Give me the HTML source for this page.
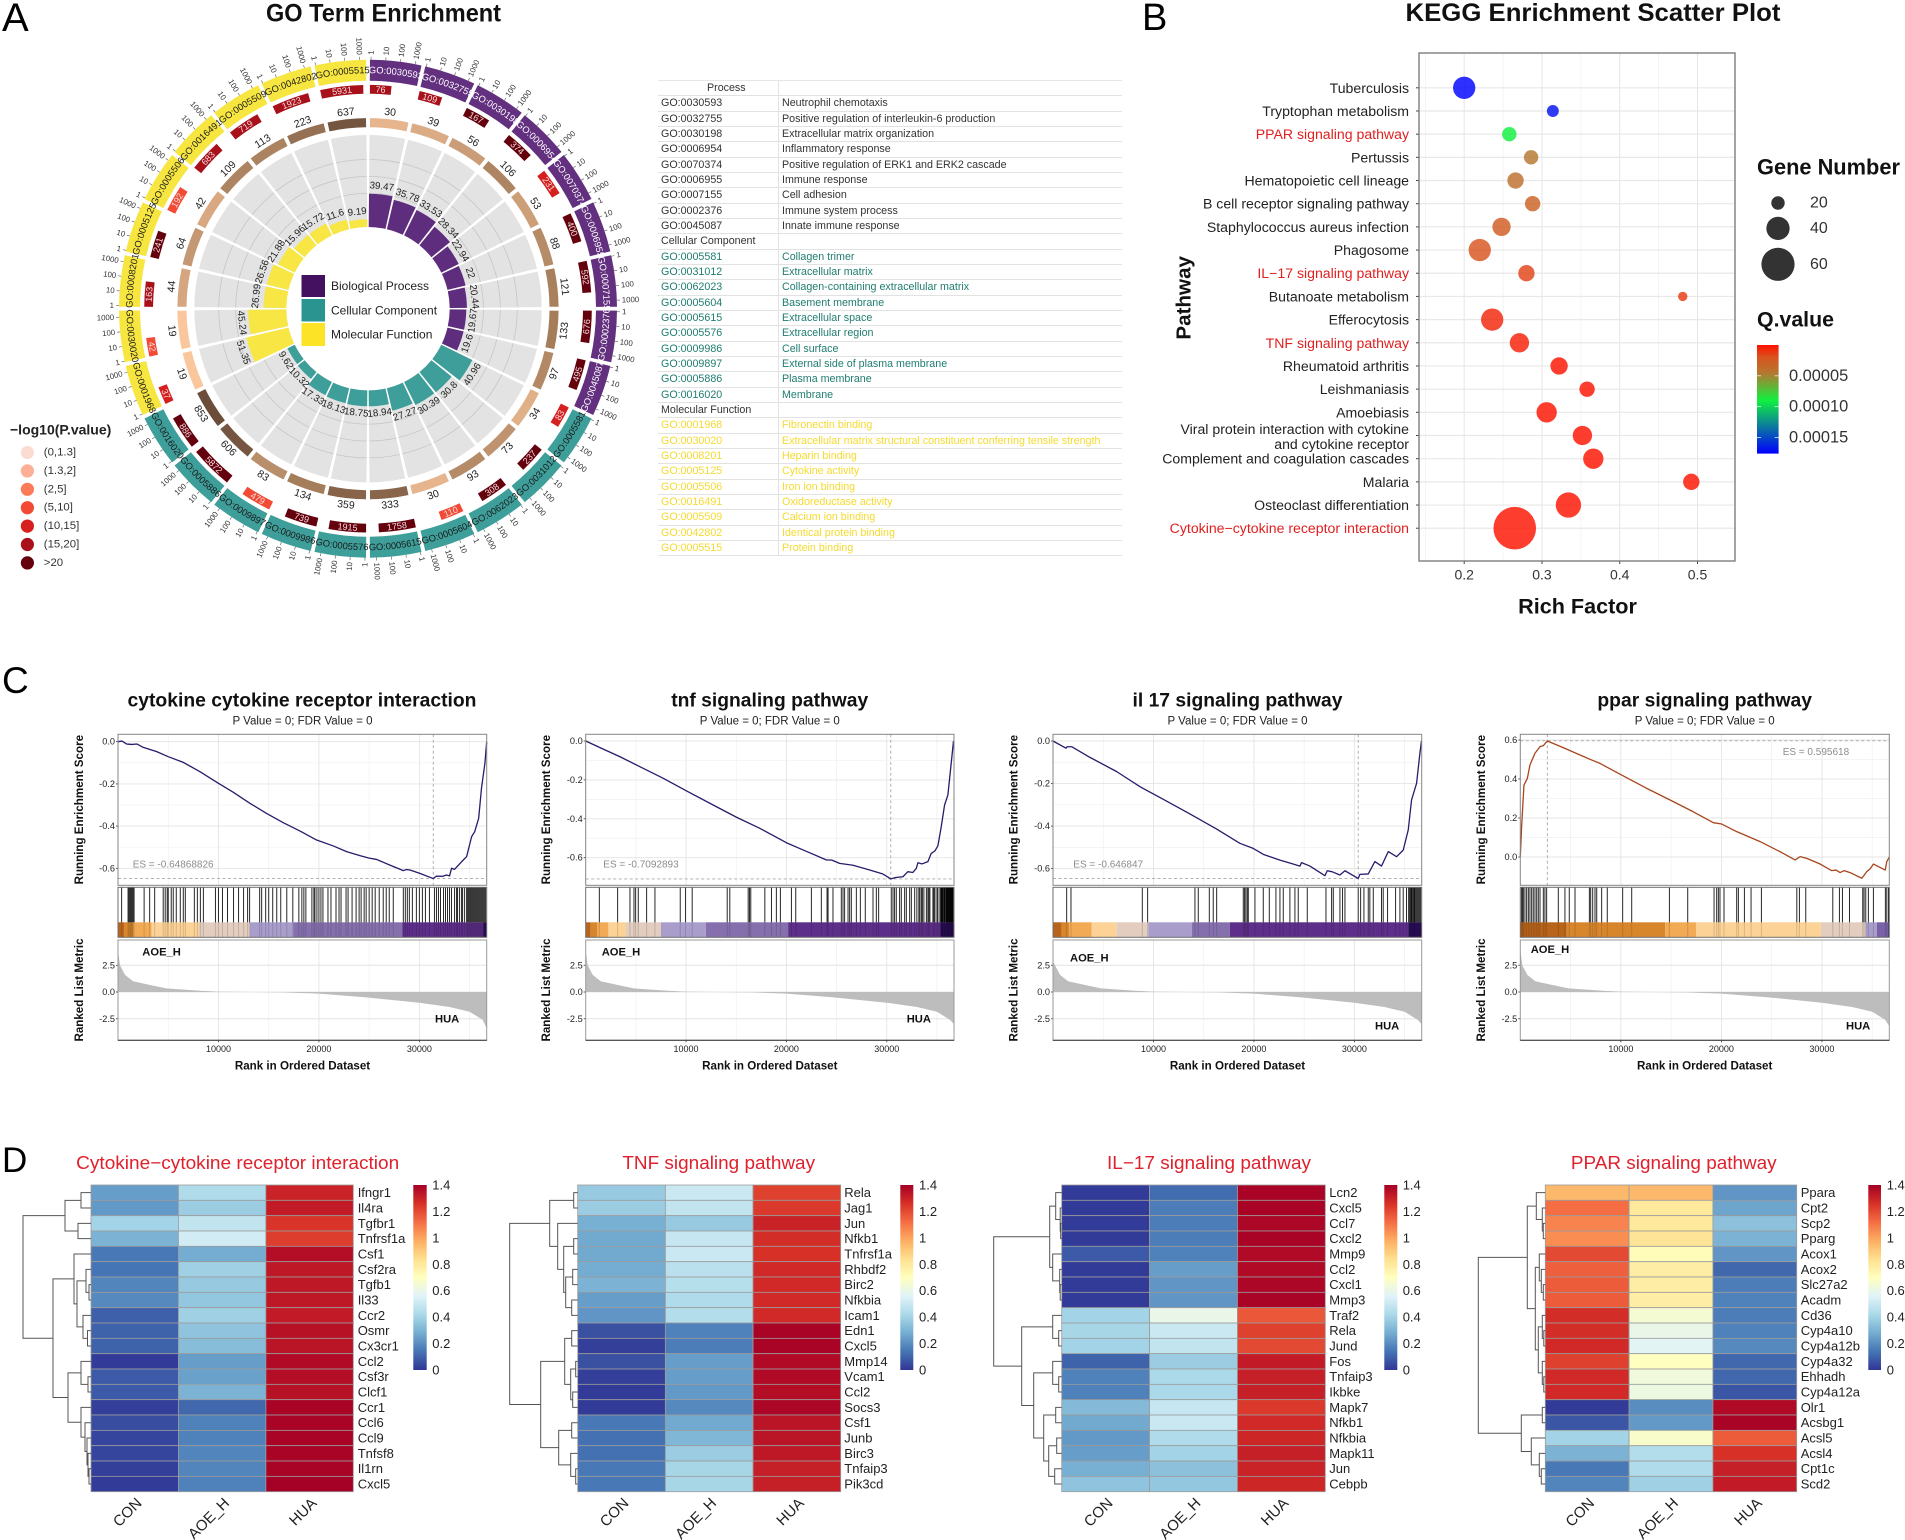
<!DOCTYPE html>
<html lang="en">
<head>
<meta charset="utf-8">
<title>Enrichment analysis figure</title>
<style>
html,body{margin:0;padding:0;background:#fff;}
body{width:1905px;height:1540px;position:relative;overflow:hidden;font-family:"Liberation Sans",sans-serif;}
#figure{position:absolute;left:0;top:0;}
#figure text{font-family:"Liberation Sans",sans-serif;}
#go-table{position:absolute;left:658px;top:80px;width:464px;font-size:10.7px;color:#333;border-top:1px solid #e6e6e6;}
#go-table .r{display:flex;height:15.34px;box-sizing:border-box;border-bottom:1px solid #e2e2e2;line-height:14px;white-space:nowrap;}
#go-table .r span:first-child{width:121px;box-sizing:border-box;padding-left:3px;border-right:1px solid #e2e2e2;flex:none;}
#go-table .r span:last-child{padding-left:3px;}
#go-table .cc{color:#1f7d70;}
#go-table .mf{color:#f5da30;}
</style>
</head>
<body>
<svg id="figure" xmlns="http://www.w3.org/2000/svg" width="1905" height="1540" viewBox="0 0 1905 1540">
  <rect width="1905" height="1540" fill="#fff"/>
  <defs id="arc-defs"></defs>

  <!-- panel letters -->
  <text x="2" y="31" font-size="40" fill="#000">A</text>
  <text x="1142" y="30" font-size="38" fill="#000">B</text>
  <text x="2" y="693" font-size="37" fill="#000">C</text>
  <text x="2" y="1172" font-size="35" fill="#000">D</text>

  <!-- panel A -->
  <text x="383.5" y="13.8" font-size="24.6" font-weight="bold" text-anchor="middle" dominant-baseline="central" textLength="235" lengthAdjust="spacingAndGlyphs" fill="#111">GO Term Enrichment</text>
  <g id="go-circle"></g>
  <g>
    <rect x="301.5" y="275" width="23.5" height="22" fill="#43115f"/>
    <rect x="301.5" y="299" width="23.5" height="22.5" fill="#2a9490"/>
    <rect x="301.5" y="323" width="23.5" height="23" fill="#fde325"/>
    <text x="331" y="286" font-size="12" fill="#222" dominant-baseline="central">Biological Process</text>
    <text x="331" y="310.6" font-size="12" fill="#222" dominant-baseline="central">Cellular Component</text>
    <text x="331" y="334.7" font-size="12" fill="#222" dominant-baseline="central">Molecular Function</text>
  </g>
  <g id="go-pvalue-legend">
    <text x="10" y="429.4" font-size="14" font-weight="bold" fill="#222" dominant-baseline="central">−log10(P.value)</text>
  </g>

  <!-- panel B -->
  <text x="1593" y="12.8" font-size="25" font-weight="bold" text-anchor="middle" dominant-baseline="central" textLength="375" lengthAdjust="spacingAndGlyphs" fill="#111">KEGG Enrichment Scatter Plot</text>
  <g id="kegg-plot"></g>
  <text transform="translate(1184 297.8) rotate(-90)" font-size="20.6" font-weight="bold" text-anchor="middle" dominant-baseline="central" fill="#111">Pathway</text>
  <text x="1577.5" y="606" font-size="21.6" font-weight="bold" text-anchor="middle" dominant-baseline="central" fill="#111">Rich Factor</text>
  <text x="1757" y="167" font-size="21.8" font-weight="bold" dominant-baseline="central" fill="#111">Gene Number</text>
  <text x="1757" y="319.5" font-size="21.3" font-weight="bold" dominant-baseline="central" fill="#111">Q.value</text>

  <!-- panel C -->
  <g id="gsea-plots"></g>
  <g>
    <text x="302" y="700.7" font-size="19.5" font-weight="bold" text-anchor="middle" dominant-baseline="central" textLength="349" lengthAdjust="spacingAndGlyphs" fill="#111">cytokine cytokine receptor interaction</text>
    <text x="769.7" y="700.7" font-size="19.5" font-weight="bold" text-anchor="middle" dominant-baseline="central" textLength="197" lengthAdjust="spacingAndGlyphs" fill="#111">tnf signaling pathway</text>
    <text x="1237.5" y="700.7" font-size="19.5" font-weight="bold" text-anchor="middle" dominant-baseline="central" textLength="210" lengthAdjust="spacingAndGlyphs" fill="#111">il 17 signaling pathway</text>
    <text x="1704.7" y="700.7" font-size="19.5" font-weight="bold" text-anchor="middle" dominant-baseline="central" textLength="214.7" lengthAdjust="spacingAndGlyphs" fill="#111">ppar signaling pathway</text>

    <text x="302.5" y="721.7" font-size="11.5" text-anchor="middle" dominant-baseline="central" fill="#222">P Value = 0; FDR Value = 0</text>
    <text x="769.8" y="721.7" font-size="11.5" text-anchor="middle" dominant-baseline="central" fill="#222">P Value = 0; FDR Value = 0</text>
    <text x="1237.5" y="721.7" font-size="11.5" text-anchor="middle" dominant-baseline="central" fill="#222">P Value = 0; FDR Value = 0</text>
    <text x="1704.7" y="721.7" font-size="11.5" text-anchor="middle" dominant-baseline="central" fill="#222">P Value = 0; FDR Value = 0</text>

    <text transform="translate(79.3 809.7) rotate(-90)" font-size="11.6" font-weight="bold" text-anchor="middle" dominant-baseline="central" fill="#111">Running Enrichment Score</text>
    <text transform="translate(546.3 809.7) rotate(-90)" font-size="11.6" font-weight="bold" text-anchor="middle" dominant-baseline="central" fill="#111">Running Enrichment Score</text>
    <text transform="translate(1014 809.7) rotate(-90)" font-size="11.6" font-weight="bold" text-anchor="middle" dominant-baseline="central" fill="#111">Running Enrichment Score</text>
    <text transform="translate(1481.3 809.7) rotate(-90)" font-size="11.6" font-weight="bold" text-anchor="middle" dominant-baseline="central" fill="#111">Running Enrichment Score</text>

    <text transform="translate(79.3 990) rotate(-90)" font-size="11.6" font-weight="bold" text-anchor="middle" dominant-baseline="central" fill="#111">Ranked List Metric</text>
    <text transform="translate(546.3 990) rotate(-90)" font-size="11.6" font-weight="bold" text-anchor="middle" dominant-baseline="central" fill="#111">Ranked List Metric</text>
    <text transform="translate(1014 990) rotate(-90)" font-size="11.6" font-weight="bold" text-anchor="middle" dominant-baseline="central" fill="#111">Ranked List Metric</text>
    <text transform="translate(1481.3 990) rotate(-90)" font-size="11.6" font-weight="bold" text-anchor="middle" dominant-baseline="central" fill="#111">Ranked List Metric</text>

    <text x="302.5" y="1066" font-size="11.6" font-weight="bold" text-anchor="middle" dominant-baseline="central" fill="#111">Rank in Ordered Dataset</text>
    <text x="769.8" y="1066" font-size="11.6" font-weight="bold" text-anchor="middle" dominant-baseline="central" fill="#111">Rank in Ordered Dataset</text>
    <text x="1237.5" y="1066" font-size="11.6" font-weight="bold" text-anchor="middle" dominant-baseline="central" fill="#111">Rank in Ordered Dataset</text>
    <text x="1704.7" y="1066" font-size="11.6" font-weight="bold" text-anchor="middle" dominant-baseline="central" fill="#111">Rank in Ordered Dataset</text>

    <text x="132.7" y="865" font-size="10" fill="#8c8c8c" dominant-baseline="central">ES = -0.64868826</text>
    <text x="603.3" y="865" font-size="10" fill="#8c8c8c" dominant-baseline="central">ES = -0.7092893</text>
    <text x="1073.3" y="865" font-size="10" fill="#8c8c8c" dominant-baseline="central">ES = -0.646847</text>
    <text x="1782.7" y="752.7" font-size="10" fill="#8c8c8c" dominant-baseline="central">ES = 0.595618</text>

    <text x="142.3" y="952.3" font-size="11.2" font-weight="bold" fill="#111" dominant-baseline="central">AOE_H</text>
    <text x="601.7" y="952.7" font-size="11.2" font-weight="bold" fill="#111" dominant-baseline="central">AOE_H</text>
    <text x="1070" y="958.7" font-size="11.2" font-weight="bold" fill="#111" dominant-baseline="central">AOE_H</text>
    <text x="1530.7" y="950" font-size="11.2" font-weight="bold" fill="#111" dominant-baseline="central">AOE_H</text>
    <text x="435" y="1019.3" font-size="11.2" font-weight="bold" fill="#111" dominant-baseline="central">HUA</text>
    <text x="906.7" y="1019.3" font-size="11.2" font-weight="bold" fill="#111" dominant-baseline="central">HUA</text>
    <text x="1375" y="1026.7" font-size="11.2" font-weight="bold" fill="#111" dominant-baseline="central">HUA</text>
    <text x="1846" y="1026.7" font-size="11.2" font-weight="bold" fill="#111" dominant-baseline="central">HUA</text>
  </g>

  <!-- panel D -->
  <g id="heatmaps"></g>
  <text x="237.7" y="1162.7" font-size="18.5" text-anchor="middle" dominant-baseline="central" textLength="323" lengthAdjust="spacingAndGlyphs" fill="#e0202c">Cytokine−cytokine receptor interaction</text>
  <text x="718.7" y="1162.7" font-size="18.5" text-anchor="middle" dominant-baseline="central" textLength="192.7" lengthAdjust="spacingAndGlyphs" fill="#e0202c">TNF signaling pathway</text>
  <text x="1209" y="1162.7" font-size="18.5" text-anchor="middle" dominant-baseline="central" textLength="204" lengthAdjust="spacingAndGlyphs" fill="#e0202c">IL−17 signaling pathway</text>
  <text x="1673.8" y="1162.7" font-size="18.5" text-anchor="middle" dominant-baseline="central" textLength="205.7" lengthAdjust="spacingAndGlyphs" fill="#e0202c">PPAR signaling pathway</text>
</svg>

<div id="go-table">
  <div class="r"><span style="padding-left:49px">Process</span><span></span></div>
  <div class="r"><span>GO:0030593</span><span>Neutrophil chemotaxis</span></div>
  <div class="r"><span>GO:0032755</span><span>Positive regulation of interleukin-6 production</span></div>
  <div class="r"><span>GO:0030198</span><span>Extracellular matrix organization</span></div>
  <div class="r"><span>GO:0006954</span><span>Inflammatory response</span></div>
  <div class="r"><span>GO:0070374</span><span>Positive regulation of ERK1 and ERK2 cascade</span></div>
  <div class="r"><span>GO:0006955</span><span>Immune response</span></div>
  <div class="r"><span>GO:0007155</span><span>Cell adhesion</span></div>
  <div class="r"><span>GO:0002376</span><span>Immune system process</span></div>
  <div class="r"><span>GO:0045087</span><span>Innate immune response</span></div>
  <div class="r"><span>Cellular Component</span><span></span></div>
  <div class="r cc"><span>GO:0005581</span><span>Collagen trimer</span></div>
  <div class="r cc"><span>GO:0031012</span><span>Extracellular matrix</span></div>
  <div class="r cc"><span>GO:0062023</span><span>Collagen-containing extracellular matrix</span></div>
  <div class="r cc"><span>GO:0005604</span><span>Basement membrane</span></div>
  <div class="r cc"><span>GO:0005615</span><span>Extracellular space</span></div>
  <div class="r cc"><span>GO:0005576</span><span>Extracellular region</span></div>
  <div class="r cc"><span>GO:0009986</span><span>Cell surface</span></div>
  <div class="r cc"><span>GO:0009897</span><span>External side of plasma membrane</span></div>
  <div class="r cc"><span>GO:0005886</span><span>Plasma membrane</span></div>
  <div class="r cc"><span>GO:0016020</span><span>Membrane</span></div>
  <div class="r"><span>Molecular Function</span><span></span></div>
  <div class="r mf"><span>GO:0001968</span><span>Fibronectin binding</span></div>
  <div class="r mf"><span>GO:0030020</span><span>Extracellular matrix structural constituent conferring tensile strength</span></div>
  <div class="r mf"><span>GO:0008201</span><span>Heparin binding</span></div>
  <div class="r mf"><span>GO:0005125</span><span>Cytokine activity</span></div>
  <div class="r mf"><span>GO:0005506</span><span>Iron ion binding</span></div>
  <div class="r mf"><span>GO:0016491</span><span>Oxidoreductase activity</span></div>
  <div class="r mf"><span>GO:0005509</span><span>Calcium ion binding</span></div>
  <div class="r mf"><span>GO:0042802</span><span>Identical protein binding</span></div>
  <div class="r mf"><span>GO:0005515</span><span>Protein binding</span></div>
</div>

<script>
/* ---------- panel A data ---------- */
const goIds = ['GO:0030593','GO:0032755','GO:0030198','GO:0006954','GO:0070374','GO:0006955','GO:0007155','GO:0002376','GO:0045087','GO:0005581','GO:0031012','GO:0062023','GO:0005604','GO:0005615','GO:0005576','GO:0009986','GO:0009897','GO:0005886','GO:0016020','GO:0001968','GO:0030020','GO:0008201','GO:0005125','GO:0005506','GO:0016491','GO:0005509','GO:0042802','GO:0005515'];
const goCategory = [0,0,0,0,0,0,0,0,0,1,1,1,1,1,1,1,1,1,1,2,2,2,2,2,2,2,2,2];
const goBackgroundCounts = [76,109,167,374,231,400,592,676,495,83,237,308,110,1758,1915,739,479,5872,886,37,42,163,241,192,683,719,1923,5931];
const goPValues = [17,17,25,25,11,25,25,25,25,11,25,25,9,25,25,25,9,25,25,11,9,17,25,9,17,17,17,17];
const goGeneCounts = [30,39,56,106,53,88,121,133,97,34,73,93,30,333,359,134,83,606,853,19,19,44,64,42,109,113,223,637];
const goRichValues = [39.47,35.78,33.53,28.34,22.94,22,20.44,19.67,19.6,40.96,30.8,30.39,27.27,18.94,18.75,18.13,17.33,10.32,9.62,51.35,45.24,26.99,26.56,21.88,15.96,15.72,11.6,9.19];
const goAxisTicks = ['1','10','100','1000'];
const goGridValues = [40,60,80];
const pLegendLabels = ['(0,1.3]','(1.3,2]','(2,5]','(5,10]','(10,15]','(15,20]','>20'];
const pLegendUpper = [1.3,2,5,10,15,20,Infinity];
const pLegendColors = ['#fcdcd0','#fcae96','#fb7a58','#f24a34','#d5201f','#a8101a','#65000d'];
const goCategoryColors = ['#63307f','#3e9e9a','#f7e63f'];
const goLabelColors = ['#ffffff','#1b1b1b','#1b1b1b'];

/* ---------- panel B data ---------- */
const keggPathways = ['Tuberculosis','Tryptophan metabolism','PPAR signaling pathway','Pertussis','Hematopoietic cell lineage','B cell receptor signaling pathway','Staphylococcus aureus infection','Phagosome','IL−17 signaling pathway','Butanoate metabolism','Efferocytosis','TNF signaling pathway','Rheumatoid arthritis','Leishmaniasis','Amoebiasis','Viral protein interaction with cytokine|and cytokine receptor','Complement and coagulation cascades','Malaria','Osteoclast differentiation','Cytokine−cytokine receptor interaction'];
const keggHighlighted = [0,0,1,0,0,0,0,0,1,0,0,1,0,0,0,0,0,0,0,1];
const keggRichFactor = [0.2,0.314,0.258,0.286,0.266,0.288,0.248,0.22,0.28,0.481,0.236,0.271,0.322,0.358,0.306,0.352,0.366,0.492,0.334,0.265];
const keggGeneNumber = [38,17,22,22,26,24,30,38,26,12,38,32,28,24,34,32,34,26,44,79];
const keggQValue = [0.000175,0.00017,0.00009,0.000045,0.00004,0.00003,0.000025,0.00002,0.000015,0.000012,0.000006,0.000004,0.000001,0.000001,0.000001,0.000001,0.000001,0.000001,0.000001,0.000001];
const keggXTicks = [0.2,0.3,0.4,0.5];
const keggXMinor = [0.15,0.25,0.35,0.45];
const keggSizeLegend = [20,40,60];
const keggQTicks = [0.00005,0.0001,0.00015];
const keggQStopValues = [0,0.00002,0.000045,0.00009,0.00013,0.000176];
const keggQStopColors = ['#ff1000','#d8541e','#b5772f','#10f040','#0b7f9a','#0000ff'];

/* ---------- panel C data ---------- */
const gseaRanks1 = [0,400,860,1360,1900,2520,3850,5000,6500,8160,10000,11480,13130,14790,16450,18100,19770,21430,22750,24080,25000,25740,27070,28400,28700,29060,30050,31380,31700,32300,32700,33000,33200,33500,34200,34700,35200,35500,35900,36180,36520,36700];
const gseaScores1 = [0,0.003,-0.011,-0.013,-0.011,-0.027,-0.047,-0.071,-0.098,-0.142,-0.197,-0.24,-0.292,-0.34,-0.384,-0.423,-0.466,-0.494,-0.521,-0.54,-0.552,-0.558,-0.585,-0.611,-0.606,-0.608,-0.624,-0.6487,-0.637,-0.638,-0.632,-0.636,-0.6,-0.605,-0.569,-0.545,-0.45,-0.427,-0.363,-0.221,-0.103,0];
const gseaRanks2 = [0,1426,3417,5400,7730,10050,12700,15030,17350,20000,21660,24000,24500,25300,26640,28300,29620,30400,30900,31610,32100,32600,32940,33100,33500,34100,34430,34800,35100,35430,35760,36090,36420,36650];
const gseaScores2 = [0,-0.034,-0.081,-0.132,-0.192,-0.257,-0.329,-0.392,-0.449,-0.523,-0.56,-0.612,-0.612,-0.629,-0.639,-0.663,-0.684,-0.709,-0.702,-0.698,-0.672,-0.676,-0.655,-0.626,-0.632,-0.62,-0.578,-0.565,-0.538,-0.44,-0.329,-0.278,-0.115,0];
const gseaRanks3 = [0,1290,1400,1860,3680,6340,8660,10980,13630,16290,18600,19930,20930,22590,23900,24580,24740,25570,27070,27300,27800,28560,29060,30380,30550,31380,32040,32700,33370,34200,34860,35360,35690,36190,36520,36680];
const gseaScores3 = [0,-0.034,-0.027,-0.027,-0.077,-0.144,-0.215,-0.274,-0.343,-0.414,-0.481,-0.505,-0.533,-0.56,-0.578,-0.588,-0.572,-0.588,-0.633,-0.61,-0.615,-0.63,-0.61,-0.646,-0.627,-0.625,-0.567,-0.588,-0.52,-0.544,-0.513,-0.418,-0.277,-0.199,-0.058,0];
const gseaRanks4 = [0,130,365,700,960,1460,1960,2290,2690,4440,5940,6930,7930,10080,12570,15220,17200,19200,20030,21530,23850,25840,27330,27830,28490,29820,30980,31400,31810,32200,32800,33970,34460,34800,35130,36290,36450,36700];
const gseaScores4 = [0,0.156,0.369,0.403,0.472,0.532,0.566,0.571,0.595,0.557,0.523,0.501,0.48,0.42,0.352,0.284,0.232,0.176,0.169,0.13,0.079,0.027,-0.015,0.002,-0.007,-0.036,-0.07,-0.067,-0.08,-0.07,-0.08,-0.109,-0.075,-0.06,-0.036,-0.067,-0.024,0];
const gseaRanks = [gseaRanks1,gseaRanks2,gseaRanks3,gseaRanks4];
const gseaScores = [gseaScores1,gseaScores2,gseaScores3,gseaScores4];
const gseaPeakRank = [31380,30400,30380,2690];
const gseaPeakScore = [-0.6487,-0.7093,-0.6468,0.5956];
const gseaLineColors = ['#2b1a6b','#2b1a6b','#2b1a6b','#a8451c'];
const gseaHits1 = [360,1000,1100,1200,1300,1400,1500,1600,2600,3150,3650,4500,4700,4900,5000,5300,5500,5800,6200,6500,6700,7600,7900,8200,8500,9700,10000,10400,10900,11500,12000,12500,12900,13100,14100,14300,14700,15000,15400,15800,16200,16800,17400,18000,18300,18500,18700,19300,19500,19600,19800,20000,20200,20400,20900,21200,21700,22000,22200,22700,22900,23300,23700,24000,24200,24500,24700,25000,25300,25600,26000,26400,26700,27000,27400,28400,28600,28800,29000,29300,29700,30000,30300,30600,31000,31500,31700,31900,32100,32400,32600,32800,33000,33200,33500,33700,33800,34000,34200,34300,34500,34700,34800,34900,35000,35100,35200,35300,35400,35500,35600,35700,35800,35900,36000,36100,36200,36300,36400,36500,36600];
const gseaHits2 = [1360,3180,4410,4810,4975,5240,6070,6900,9420,9950,10610,14100,14360,16190,16320,16450,17850,18510,19000,19400,20500,20930,22490,23480,24050,24150,24640,25470,25640,25800,26140,26300,26470,26970,27370,27860,28630,28960,29190,30450,30620,30780,30950,31280,31450,31780,31950,32280,32450,32780,33000,33200,33300,33450,33550,33700,33950,34100,34200,34300,34600,34700,34800,35000,35100,35300,35400,35450,35500,35550,35600,35700,35750,35800,35900,35950,36000,36050,36100,36150,36200,36250,36300,36350,36400,36450,36500,36550,36600];
const gseaHits3 = [1360,1790,8890,9420,14130,14460,15560,15950,16290,18940,19070,19200,19340,19440,20100,20930,21530,22190,22590,22920,23580,24080,24410,25310,27170,27730,27900,28560,28820,29060,30380,30620,30950,31380,31540,31880,32700,32870,33300,34100,34530,34860,35190,35400,35500,35600,35650,35700,35800,35900,35950,36000,36100,36200,36300,36400,36500,36600];
const gseaHits4 = [130,230,300,460,630,800,960,1130,1290,1460,1630,1790,1960,2290,2450,2620,3780,4440,4870,5440,6870,7000,7200,7430,7600,8090,8650,10180,11080,14830,16650,19270,19530,19700,19860,20260,21520,21690,22290,22950,23980,27500,27760,28390,31080,31740,32040,32740,34060,34190,34360,34620,35120,36310,36450,36620];
const gseaHits = [gseaHits1,gseaHits2,gseaHits3,gseaHits4];
const gseaBandBreaks1 = [0,600,1530,3350,8060,13130,17440,28320,36340,36700];
const gseaBandBreaks2 = [0,500,1160,2260,4010,7500,11970,20170,35320,36700];
const gseaBandBreaks3 = [0,860,1590,3850,6340,9490,13830,17610,35360,36700];
const gseaBandBreaks4 = [0,4610,14400,17480,29890,34360,35460,36620,36700];
const gseaBandBreaks = [gseaBandBreaks1,gseaBandBreaks2,gseaBandBreaks3,gseaBandBreaks4];
const gseaBandColors = ['#b8641a','#d8862c','#f2aa55','#fcd296','#e2cdbf','#a99dcc','#8570ad','#5e2f8a','#2d0f5e'];
const gseaBandColors4 = ['#b8641a','#d8862c','#f2aa55','#fcd296','#e2cdbf','#a99dcc','#7a62a8','#2d0f5e'];
const metricRanks = [0,200,700,1500,3200,4800,8200,10000,13100,16400,20000,24700,30000,33000,35000,36300,36700];
const metricValues = [3.9,2.5,1.6,1,0.65,0.34,0.12,0.03,0,-0.03,-0.15,-0.5,-1,-1.4,-1.85,-2.6,-3.4];
const metricFirst = [3.9,3.9,2.9,3.9];
const metricLast = [-3.4,-3,-3,-3.2];
const gseaXTicks = [10000,20000,30000];
const gseaXMinor = [5000,15000,25000,35000];
const gseaNegTicks = [0,-0.2,-0.4,-0.6];
const gseaPosTicks = [0,0.2,0.4,0.6];
const metricTicks = [2.5,0,-2.5];
const gseaLayouts = [
  {key:'cytokine',left:118,right:486.7,zero:741.7,k:211,sign:-1},
  {key:'tnf',left:585.7,right:954,zero:741,k:194.5,sign:-1},
  {key:'il17',left:1053,right:1421.7,zero:741,k:212.7,sign:-1},
  {key:'ppar',left:1520.3,right:1889.3,zero:857,k:195,sign:1}
];

/* ---------- panel D data ---------- */
const heatColumns = ['CON','AOE_H','HUA'];
const heatGenes1 = ['Ifngr1','Il4ra','Tgfbr1','Tnfrsf1a','Csf1','Csf2ra','Tgfb1','Il33','Ccr2','Osmr','Cx3cr1','Ccl2','Csf3r','Clcf1','Ccr1','Ccl6','Ccl9','Tnfsf8','Il1rn','Cxcl5'];
const heatValues1 = [[.24,.43,1.30],[.23,.38,1.32],[.40,.48,1.25],[.30,.52,1.23],[.15,.28,1.36],[.14,.39,1.33],[.18,.37,1.33],[.19,.36,1.33],[.09,.39,1.32],[.10,.35,1.35],[.10,.33,1.34],[.01,.24,1.37],[.08,.25,1.36],[.08,.30,1.35],[.02,.11,1.39],[.05,.17,1.39],[.03,.17,1.39],[.03,.18,1.39],[.02,.18,1.39],[.01,.17,1.40]];
const heatGenes2 = ['Rela','Jag1','Jun','Nfkb1','Tnfrsf1a','Rhbdf2','Birc2','Nfkbia','Icam1','Edn1','Cxcl5','Mmp14','Vcam1','Ccl2','Socs3','Csf1','Junb','Birc3','Tnfaip3','Pik3cd'];
const heatValues2 = [[.37,.50,1.22],[.38,.48,1.24],[.29,.37,1.30],[.27,.49,1.27],[.27,.50,1.26],[.28,.46,1.28],[.30,.45,1.28],[.24,.43,1.28],[.22,.44,1.28],[.06,.17,1.39],[.02,.16,1.39],[.06,.24,1.37],[.02,.24,1.37],[.01,.23,1.36],[.01,.19,1.38],[.15,.27,1.34],[.13,.31,1.34],[.13,.38,1.33],[.15,.41,1.31],[.15,.41,1.31]];
const heatGenes3 = ['Lcn2','Cxcl5','Ccl7','Cxcl2','Mmp9','Ccl2','Cxcl1','Mmp3','Traf2','Rela','Jund','Fos','Tnfaip3','Ikbke','Mapk7','Nfkb1','Nfkbia','Mapk11','Jun','Cebpb'];
const heatValues3 = [[.01,.12,1.39],[.01,.16,1.39],[.01,.16,1.38],[.01,.16,1.39],[.08,.17,1.37],[.01,.24,1.37],[.01,.22,1.38],[.01,.22,1.39],[.40,.60,1.17],[.41,.50,1.22],[.40,.48,1.20],[.10,.38,1.32],[.17,.42,1.31],[.17,.42,1.31],[.32,.49,1.24],[.27,.50,1.28],[.23,.43,1.29],[.24,.40,1.31],[.29,.34,1.30],[.35,.36,1.29]];
const heatGenes4 = ['Ppara','Cpt2','Scp2','Pparg','Acox1','Acox2','Slc27a2','Acadm','Cd36','Cyp4a10','Cyp4a12b','Cyp4a32','Ehhadh','Cyp4a12a','Olr1','Acsbg1','Acsl5','Acsl4','Cpt1c','Scd2'];
const heatValues4 = [[.95,.95,.22],[1.12,.80,.26],[1.07,.80,.34],[1.05,.82,.30],[1.20,.72,.22],[1.15,.78,.11],[1.16,.78,.16],[1.16,.78,.17],[1.27,.65,.16],[1.27,.60,.17],[1.28,.57,.19],[1.22,.70,.11],[1.28,.63,.11],[1.28,.62,.07],[.01,.20,1.37],[.07,.23,1.39],[.40,.67,1.16],[.30,.44,1.26],[.15,.43,1.31],[.18,.39,1.32]];
const heatTree1 = [68,[26,[10,0,1],[13,2,3]],[38,[17,4,[14,[5,5,[2,6,7]],[8,8,[3.5,9,10]]]],[23,[10,11,[3,12,13]],[10,14,[6,15,[4,16,[3,17,[2,18,19]]]]]]]];
const heatTree2 = [68,[28,[4,0,1],[20,2,[14,[4,3,4],[12,[5,5,6],[6,7,8]]]]],[37,[13,[6,9,10],[7,[2,11,12],[5,13,14]]],[19,[6,15,16],[7,17,[2,18,19]]]]];
const heatTree3 = [68,[12,[6,0,[1.5,1,[1,2,3]]],[9,4,[2,5,[1.5,6,7]]]],[40,[9,8,[3,9,10]],[28,[9,11,[3,12,13]],[18,[6,14,15],[13,[5,16,17],[7,18,19]]]]]];
const heatTree4 = [67,[18,[9,0,[3,1,[2,2,3]]],[10,[6,4,[4,5,[2,6,7]]],[7,[3,8,[1.5,9,10]],[3,11,[1.5,12,13]]]]],[24,[3,14,15],[14,16,[6,17,[4,18,19]]]]];
const heatScaleTicks = [1.4,1.2,1,0.8,0.6,0.4,0.2,0];
const heatScaleColors = ['#313695','#4575b4','#74add1','#abd9e9','#e0f3f8','#ffffbf','#fee090','#fdae61','#f46d43','#d73027','#a50026'];
const heatGenes = [heatGenes1,heatGenes2,heatGenes3,heatGenes4];
const heatValues = [heatValues1,heatValues2,heatValues3,heatValues4];
const heatTrees = [heatTree1,heatTree2,heatTree3,heatTree4];
const heatLayouts = [
  {key:'cytokine',left:91,right:353.3,label:357.7,barL:413.3,barR:426.7,tick:432.3},
  {key:'tnf',left:577.7,right:840.7,label:844.3,barL:900.3,barR:913.3,tick:919},
  {key:'il17',left:1061.7,right:1325.3,label:1329.3,barL:1384.3,barR:1397.3,tick:1402.7},
  {key:'ppar',left:1545.3,right:1796.7,label:1800.7,barL:1868.3,barR:1881,tick:1886.7}
];

/* ---------- helpers ---------- */
const NS = 'http://www.w3.org/2000/svg';
function mk(parent, tag, attrs, text) {
  const e = document.createElementNS(NS, tag);
  for (const k in attrs) e.setAttribute(k, attrs[k]);
  if (text !== undefined) e.textContent = text;
  parent.appendChild(e);
  return e;
}
function hexRgb(h) { return [parseInt(h.slice(1,3),16),parseInt(h.slice(3,5),16),parseInt(h.slice(5,7),16)]; }
function mix(a, b, t) {
  const A = hexRgb(a), B = hexRgb(b);
  return 'rgb(' + A.map((v,i)=>Math.round(v+(B[i]-v)*t)).join(',') + ')';
}
function piecewise(stops, colors, v) {
  if (v <= stops[0]) return mix(colors[0], colors[0], 0);
  for (let i = 1; i < stops.length; i++) {
    if (v <= stops[i]) return mix(colors[i-1], colors[i], (v-stops[i-1])/(stops[i]-stops[i-1]));
  }
  return mix(colors[colors.length-1], colors[colors.length-1], 0);
}

/* ---------- panel A ---------- */
(function () {
  const root = document.getElementById('go-circle');
  const defs = document.getElementById('arc-defs');
  const cx = 368, cy = 308.7;
  const segCount = goIds.length, segAngle = 360 / segCount;
  const polar = (r, a) => { const t = a * Math.PI / 180; return [cx + r * Math.sin(t), cy - r * Math.cos(t)]; };
  const fmt = p => p[0].toFixed(2) + ' ' + p[1].toFixed(2);
  const sector = (r0, r1, a0, a1) => {
    const large = (a1 - a0) > 180 ? 1 : 0;
    return 'M' + fmt(polar(r1, a0)) + 'A' + r1 + ' ' + r1 + ' 0 ' + large + ' 1 ' + fmt(polar(r1, a1)) +
           'L' + fmt(polar(r0, a1)) + 'A' + r0 + ' ' + r0 + ' 0 ' + large + ' 0 ' + fmt(polar(r0, a0)) + 'Z';
  };
  const segStart = i => i * segAngle;
  const tangent = a => { const m = ((a % 360) + 360) % 360; return (m > 90 && m < 270) ? m - 180 : m; };
  const place = (r, a) => { const p = polar(r, a); return 'translate(' + p[0].toFixed(2) + ' ' + p[1].toFixed(2) + ') rotate(' + tangent(a).toFixed(2) + ')'; };
  const richR = v => 81.7 + v * 0.844;
  const bgLen = n => Math.log10(n) * 2.95;
  const tickAngle = (i, k) => segStart(i) + 0.7 + k * 3.4;
  const pColor = v => { for (let i = 0; i < pLegendUpper.length; i++) if (v <= pLegendUpper[i]) return pLegendColors[i]; return pLegendColors[6]; };
  const geneLogMin = Math.log10(19), geneLogMax = Math.log10(853);
  const geneColor = n => piecewise([0,0.5,1], ['#fac69c','#a67e5c','#6b4d3a'], (Math.log10(n)-geneLogMin)/(geneLogMax-geneLogMin));

  for (let i = 0; i < segCount; i++) {
    const a0 = segStart(i), a1 = a0 + segAngle, mid = a0 + segAngle / 2;

    /* outer ring */
    const ring = mk(root, 'path', {d: sector(228, 249, a0 + 0.45, a1 - 0.45), fill: goCategoryColors[goCategory[i]]});
    
    

    const flip = mid > 90 && mid < 270;
    const rText = flip ? 241.5 : 235.5;
    const pFrom = flip ? polar(rText, a1 - 0.2) : polar(rText, a0 + 0.2);
    const pTo = flip ? polar(rText, a0 - 1.2) : polar(rText, a1 + 1.2);
    const arcId = 'go-arc-' + i;
    mk(defs, 'path', {id: arcId, d: 'M' + fmt(pFrom) + 'A' + rText + ' ' + rText + ' 0 0 ' + (flip ? 0 : 1) + ' ' + fmt(pTo)});
    const idText = mk(root, 'text', {'font-size': 9.4, fill: goLabelColors[goCategory[i]]});
    
    
    const tp = mk(idText, 'textPath', {href: '#' + arcId}, goIds[i]);

    /* axis ticks */
    goAxisTicks.forEach((label, k) => {
      const a = tickAngle(i, k);
      const p0 = polar(249, a), p1 = polar(252, a);
      const tick = mk(root, 'line', {x1: p0[0], y1: p0[1], x2: p1[0], y2: p1[1], stroke: '#555', 'stroke-width': 0.6});
      
      
      const p = polar(254, a);
      const right = a < 180;
      const tickText = mk(root, 'text', {
        transform: 'translate(' + p[0].toFixed(2) + ' ' + p[1].toFixed(2) + ') rotate(' + (right ? a - 90 : a + 90).toFixed(2) + ')',
        'font-size': 7.8, fill: '#333', 'text-anchor': right ? 'start' : 'end', 'dominant-baseline': 'central'
      }, label);
      
      
    });

    /* background-count bar */
    const len = bgLen(goBackgroundCounts[i]);
    const redBar = mk(root, 'path', {d: sector(215, 223.8, a0 + 0.5, a0 + 0.5 + len), fill: pColor(goPValues[i])});
    
    
    const redText = mk(root, 'text', {transform: place(219.4, a0 + 0.5 + len / 2), 'font-size': 9, fill: '#f2dede', 'text-anchor': 'middle', 'dominant-baseline': 'central'}, goBackgroundCounts[i]);
    
    

    /* gene-count ring */
    const brown = mk(root, 'path', {d: sector(181.5, 190.6, a0 + 0.6, a1 - 0.6), fill: geneColor(goGeneCounts[i])});
    
    
    const brownText = mk(root, 'text', {transform: place(197.5, mid), 'font-size': 10.5, fill: '#222', 'text-anchor': 'middle', 'dominant-baseline': 'central'}, goGeneCounts[i]);
    
    

    /* grey track */
    const track = mk(root, 'path', {d: sector(81.7, 173.7, a0 + 0.5, a1 - 0.5), fill: '#e3e3e3'});
    
    
    goGridValues.forEach(v => {
      const r = richR(v), s = polar(r, a0 + 0.5), e = polar(r, a1 - 0.5);
      const arc = mk(root, 'path', {d: 'M' + fmt(s) + 'A' + r + ' ' + r + ' 0 0 1 ' + fmt(e), fill: 'none', stroke: '#c6c6c6', 'stroke-width': 0.8});
      
      
    });

    /* rich bar */
    const bar = mk(root, 'path', {d: sector(81.7, richR(goRichValues[i]), a0 + 0.5, a1 - 0.5), fill: ['#5f2d7e','#3e9e9a','#f7e643'][goCategory[i]]});
    
    
    const barText = mk(root, 'text', {transform: place(richR(goRichValues[i]) + 7.5, mid), 'font-size': 9.8, fill: '#222', 'text-anchor': 'middle', 'dominant-baseline': 'central'}, goRichValues[i]);
    
    
  }

  /* p-value legend */
  const lg = document.getElementById('go-pvalue-legend');
  pLegendLabels.forEach((label, i) => {
    const y = 452.5 + i * 18.4;
    const dot = mk(lg, 'circle', {cx: 27.4, cy: y, r: 6.6, fill: pLegendColors[i]});
    
    
    const t = mk(lg, 'text', {x: 43.8, y: y, 'font-size': 11.4, fill: '#333', 'dominant-baseline': 'central'}, label);
    
    
  });
})();

/* ---------- panel B ---------- */
(function () {
  const g = document.getElementById('kegg-plot');
  const L = 1419, R = 1735, T = 53, B = 561;
  const xScale = v => 1464.2 + (v - 0.2) * 777.7;
  const yScale = i => 87.8 + i * 23.18;
  const rScale = n => 6.7 + (n - 20) * 0.2475;
  const qColor = v => piecewise(keggQStopValues, keggQStopColors, v);

  const bg = mk(g, 'rect', {x: L, y: T, width: R - L, height: B - T, fill: '#fff'});
  
  

  keggXMinor.forEach(v => {
    const l = mk(g, 'line', {x1: xScale(v), x2: xScale(v), y1: T, y2: B, stroke: '#f0f0f0', 'stroke-width': 0.7});
    
    
  });
  keggXTicks.forEach(v => {
    const l = mk(g, 'line', {x1: xScale(v), x2: xScale(v), y1: T, y2: B, stroke: '#e6e6e6', 'stroke-width': 1});
    
    
    const t = mk(g, 'line', {x1: xScale(v), x2: xScale(v), y1: B, y2: B + 3, stroke: '#444', 'stroke-width': 1});
    
    
    const lab = mk(g, 'text', {x: xScale(v), y: 574.5, 'font-size': 14, fill: '#333', 'text-anchor': 'middle', 'dominant-baseline': 'central'}, v.toFixed(1));
    
    
  });
  keggPathways.forEach((name, i) => {
    const y = yScale(i);
    const l = mk(g, 'line', {x1: L, x2: R, y1: y, y2: y, stroke: '#e8e8e8', 'stroke-width': 1.2});
    
    
    const t = mk(g, 'line', {x1: L - 3, x2: L, y1: y, y2: y, stroke: '#444', 'stroke-width': 1});
    
    
    const parts = name.split('|');
    parts.forEach((part, k) => {
      const dy = parts.length > 1 ? (k === 0 ? -6.5 : 8.5) : 0;
      const lab = mk(g, 'text', {x: 1409, y: y + dy, 'font-size': 14.1, fill: keggHighlighted[i] ? '#e01f1f' : '#222', 'text-anchor': 'end', 'dominant-baseline': 'central'}, part);
      
      
    });
  });
  keggPathways.forEach((name, i) => {
    const dot = mk(g, 'circle', {cx: xScale(keggRichFactor[i]), cy: yScale(i), r: rScale(keggGeneNumber[i]), fill: qColor(keggQValue[i]), 'fill-opacity': 0.82});
    
    
  });
  const frame = mk(g, 'rect', {x: L, y: T, width: R - L, height: B - T, fill: 'none', stroke: '#7d7d7d', 'stroke-width': 1.4});
  
  

  /* size legend */
  const sizeY = [203, 228.4, 264.3];
  keggSizeLegend.forEach((n, i) => {
    const c = mk(g, 'circle', {cx: 1778, cy: sizeY[i], r: rScale(n), fill: '#333'});
    
    
    const t = mk(g, 'text', {x: 1810, y: sizeY[i], 'font-size': 16, fill: '#333', 'dominant-baseline': 'central'}, n);
    
    
  });

  /* q-value colourbar */
  const qY = v => 345 + v / 0.000176 * 108.6;
  const defs = document.getElementById('arc-defs');
  const grad = mk(defs, 'linearGradient', {id: 'q-gradient', x1: 0, y1: 0, x2: 0, y2: 1});
  keggQStopValues.forEach((v, i) => { mk(grad, 'stop', {offset: v / 0.000176, 'stop-color': keggQStopColors[i]}); });
  const bar = mk(g, 'rect', {x: 1757, y: 345, width: 21.6, height: 108.6, fill: 'url(#q-gradient)'});
  
  
  keggQTicks.forEach(v => {
    const t = mk(g, 'text', {x: 1789, y: qY(v), 'font-size': 16.4, fill: '#333', 'dominant-baseline': 'central'}, v.toFixed(5));
    
    
    const a = mk(g, 'line', {x1: 1757, x2: 1761, y1: qY(v), y2: qY(v), stroke: '#fff', 'stroke-width': 0.7});
    
    
    const b = mk(g, 'line', {x1: 1774.6, x2: 1778.6, y1: qY(v), y2: qY(v), stroke: '#fff', 'stroke-width': 0.7});
    
    
  });
})();

/* ---------- panel C ---------- */
(function () {
  const host = document.getElementById('gsea-plots');
  const topT = 734.3, topB = 885.3, rugT = 887.3, rugB = 922.3, bandB = 937.3, metT = 940, metB = 1040.3;
  const metricY = v => 992 - v * 10.7;

  gseaLayouts.forEach((lay, p) => {
    const g = mk(host, 'g', {});
    
    
    const x = r => lay.left + r * (lay.right - lay.left) / 36700;
    const y = v => lay.zero - v * lay.k;
    const yTicks = lay.sign < 0 ? gseaNegTicks : gseaPosTicks;

    /* grids */
    [[topT, topB], [metT, metB]].forEach(range => {
      gseaXMinor.forEach(v => {
        const l = mk(g, 'line', {x1: x(v), x2: x(v), y1: range[0], y2: range[1], stroke: '#f0f0f0', 'stroke-width': 0.7});
        
        
      });
      gseaXTicks.forEach(v => {
        const l = mk(g, 'line', {x1: x(v), x2: x(v), y1: range[0], y2: range[1], stroke: '#e4e4e4', 'stroke-width': 0.9});
        
        
      });
    });
    yTicks.forEach((v, i) => {
      const gl = mk(g, 'line', {x1: lay.left, x2: lay.right, y1: y(v), y2: y(v), stroke: '#e4e4e4', 'stroke-width': 0.9});
      
      
      if (i > 0) {
        const m = (v + yTicks[i - 1]) / 2;
        const gm = mk(g, 'line', {x1: lay.left, x2: lay.right, y1: y(m), y2: y(m), stroke: '#f0f0f0', 'stroke-width': 0.7});
        
        
      }
      const tk = mk(g, 'line', {x1: lay.left - 2, x2: lay.left, y1: y(v), y2: y(v), stroke: '#333', 'stroke-width': 0.8});
      
      
      const lab = mk(g, 'text', {x: lay.left - 3, y: y(v), 'font-size': 9.2, fill: '#222', 'text-anchor': 'end', 'dominant-baseline': 'central'}, v.toFixed(1));
      
      
    });
    metricTicks.forEach(v => {
      const gl = mk(g, 'line', {x1: lay.left, x2: lay.right, y1: metricY(v), y2: metricY(v), stroke: '#e4e4e4', 'stroke-width': 0.9});
      
      
      const tk = mk(g, 'line', {x1: lay.left - 2, x2: lay.left, y1: metricY(v), y2: metricY(v), stroke: '#333', 'stroke-width': 0.8});
      
      
      const lab = mk(g, 'text', {x: lay.left - 3, y: metricY(v), 'font-size': 9.2, fill: '#222', 'text-anchor': 'end', 'dominant-baseline': 'central'}, v.toFixed(1));
      
      
    });

    /* peak guides */
    const hGuide = mk(g, 'line', {x1: lay.left, x2: lay.right, y1: y(gseaPeakScore[p]), y2: y(gseaPeakScore[p]), stroke: '#a8a8a8', 'stroke-width': 0.9, 'stroke-dasharray': '3 2.5'});
    
    
    const vGuide = mk(g, 'line', {x1: x(gseaPeakRank[p]), x2: x(gseaPeakRank[p]), y1: topT, y2: topB, stroke: '#a8a8a8', 'stroke-width': 0.9, 'stroke-dasharray': '3 2.5'});
    
    

    /* running score */
    const pts = gseaRanks[p].map((r, i) => x(r).toFixed(2) + ' ' + y(gseaScores[p][i]).toFixed(2));
    const curve = mk(g, 'path', {d: 'M' + pts.join('L'), fill: 'none', stroke: gseaLineColors[p], 'stroke-width': 1.3, 'stroke-linejoin': 'round'});
    
    

    /* colour band */
    const breaks = gseaBandBreaks[p];
    const colors = p === 3 ? gseaBandColors4 : gseaBandColors;
    for (let i = 0; i < breaks.length - 1; i++) {
      const seg = mk(g, 'rect', {x: x(breaks[i]), y: rugB, width: x(breaks[i + 1]) - x(breaks[i]), height: bandB - rugB, fill: colors[i]});
      
      
    }

    /* hit rug */
    gseaHits[p].forEach(r => {
      const hit = mk(g, 'line', {x1: x(r), x2: x(r), y1: rugT, y2: rugB, stroke: '#000', 'stroke-width': 1, 'stroke-opacity': 0.85});
      
      
      const under = mk(g, 'line', {x1: x(r), x2: x(r), y1: rugB, y2: bandB, stroke: '#000', 'stroke-width': 1, 'stroke-opacity': 0.14});
      
      
    });

    /* ranked metric area */
    const vals = metricValues.slice();
    vals[0] = metricFirst[p];
    vals[vals.length - 1] = metricLast[p];
    const area = metricRanks.map((r, i) => x(r).toFixed(2) + ' ' + metricY(vals[i]).toFixed(2));
    const fill = mk(g, 'path', {d: 'M' + x(0) + ' ' + metricY(0) + 'L' + area.join('L') + 'L' + x(36700) + ' ' + metricY(0) + 'Z', fill: '#bdbdbd'});
    
    

    /* x ticks */
    gseaXTicks.forEach(v => {
      const tk = mk(g, 'line', {x1: x(v), x2: x(v), y1: metB, y2: metB + 2, stroke: '#333', 'stroke-width': 0.8});
      
      
      const lab = mk(g, 'text', {x: x(v), y: 1049, 'font-size': 9, fill: '#222', 'text-anchor': 'middle', 'dominant-baseline': 'central'}, v);
      
      
    });

    /* frames */
    [[topT, topB, '#858585'], [rugT, bandB, '#6e6e6e'], [metT, metB, '#9a9a9a']].forEach(f => {
      const fr = mk(g, 'rect', {x: lay.left, y: f[0], width: lay.right - lay.left, height: f[1] - f[0], fill: 'none', stroke: f[2], 'stroke-width': 1});
      
      
    });
    const axisLine = mk(g, 'line', {x1: lay.left, x2: lay.right, y1: metB, y2: metB, stroke: '#333', 'stroke-width': 1});
    
    
  });
})();

/* ---------- panel D ---------- */
(function () {
  const host = document.getElementById('heatmaps');
  const T = 1185, B = 1491.7, H = (B - T) / 20;
  const barT = 1185, barB = 1370, maxV = 1.4;
  const stops = heatScaleColors.map((c, i) => i / (heatScaleColors.length - 1) * maxV);
  const color = v => piecewise(stops, heatScaleColors, v);
  const rowY = i => T + (i + 0.5) * H;
  const defs = document.getElementById('arc-defs');
  const grad = mk(defs, 'linearGradient', {id: 'heat-gradient', x1: 0, y1: 1, x2: 0, y2: 0});
  heatScaleColors.forEach((c, i) => { mk(grad, 'stop', {offset: i / (heatScaleColors.length - 1), 'stop-color': c}); });

  heatLayouts.forEach((lay, h) => {
    const g = mk(host, 'g', {});
    
    
    const W = (lay.right - lay.left) / heatColumns.length;

    heatValues[h].forEach((row, r) => {
      row.forEach((v, c) => {
        const cell = mk(g, 'rect', {x: lay.left + c * W, y: T + r * H, width: W, height: H, fill: color(v), stroke: '#9c9c9c', 'stroke-width': 0.8});
        
        
      });
      const lab = mk(g, 'text', {x: lay.label, y: rowY(r), 'font-size': 13, fill: '#222', 'dominant-baseline': 'central'}, heatGenes[h][r]);
      
      
    });

    heatColumns.forEach((name, c) => {
      const px = lay.left + (c + 0.5) * W + 8;
      const lab = mk(g, 'text', {transform: 'translate(' + px + ' 1504) rotate(-45)', 'font-size': 15, fill: '#222', 'text-anchor': 'end'}, name);
      
      
    });

    const bar = mk(g, 'rect', {x: lay.barL, y: barT, width: lay.barR - lay.barL, height: barB - barT, fill: 'url(#heat-gradient)'});
    
    
    heatScaleTicks.forEach(v => {
      const lab = mk(g, 'text', {x: lay.tick, y: barB - v / maxV * (barB - barT), 'font-size': 13, fill: '#222', 'dominant-baseline': 'central'}, v);
      
      
    });

    function walk(node) {
      if (typeof node === 'number') return {x: lay.left, y: rowY(node)};
      const a = walk(node[1]), b = walk(node[2]);
      const px = lay.left - node[0];
      const link = mk(g, 'path', {d: 'M' + a.x + ' ' + a.y + 'H' + px + 'V' + b.y + 'H' + b.x, fill: 'none', stroke: '#555', 'stroke-width': 1});
      
      
      return {x: px, y: (a.y + b.y) / 2};
    }
    walk(heatTrees[h]);
  });
})();
</script>
</body>
</html>
